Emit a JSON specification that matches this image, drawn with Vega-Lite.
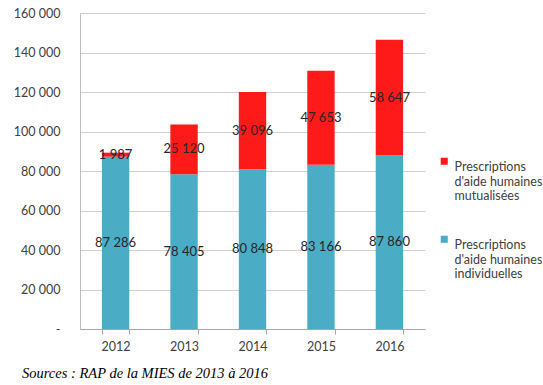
{
  "$schema": "https://vega.github.io/schema/vega-lite/v6.json",
  "width": 345,
  "height": 316,
  "autosize": "none",
  "padding": {"left": 80, "top": 13, "right": 118, "bottom": 56},
  "config": {
    "locale": {"number": {"decimal": ",", "thousands": " ", "grouping": [3], "currency": ["", " €"]}},
    "view": {"stroke": null},
    "font": "Lato",
    "axisY": {
      "values": [0, 20000, 40000, 60000, 80000, 100000, 120000, 140000, 160000],
      "labelOverlap": false,
      "format": ",d",
      "labelExpr": "datum.value == 0 ? '-' : datum.label",
      "labelFontSize": 12.5,
      "labelColor": "#404040",
      "labelPadding": 20,
      "domain": true,
      "domainColor": "#bfbfbf",
      "ticks": false,
      "gridColor": "#d0d0d0",
      "gridWidth": 1,
      "title": null
    }
  },
  "data": {
    "values": [
      {"year": "2012", "type": "Prescriptions d'aide humaines individuelles", "value": 87286},
      {"year": "2012", "type": "Prescriptions d'aide humaines mutualisées", "value": 1987},
      {"year": "2013", "type": "Prescriptions d'aide humaines individuelles", "value": 78405},
      {"year": "2013", "type": "Prescriptions d'aide humaines mutualisées", "value": 25120},
      {"year": "2014", "type": "Prescriptions d'aide humaines individuelles", "value": 80848},
      {"year": "2014", "type": "Prescriptions d'aide humaines mutualisées", "value": 39096},
      {"year": "2015", "type": "Prescriptions d'aide humaines individuelles", "value": 83166},
      {"year": "2015", "type": "Prescriptions d'aide humaines mutualisées", "value": 47653},
      {"year": "2016", "type": "Prescriptions d'aide humaines individuelles", "value": 87860},
      {"year": "2016", "type": "Prescriptions d'aide humaines mutualisées", "value": 58647}
    ]
  },
  "title": {
    "text": "Sources : RAP de la MIES de 2013 à 2016",
    "orient": "bottom",
    "anchor": "start",
    "frame": "group",
    "font": "Liberation Serif",
    "fontStyle": "italic",
    "fontWeight": "normal",
    "fontSize": 14.5,
    "color": "#000000",
    "dx": -58,
    "offset": 14
  },
  "transform": [
    {"stack": "value", "groupby": ["year"], "sort": [{"field": "type", "order": "ascending"}], "as": ["v0", "v1"]},
    {"calculate": "(datum.v0 + datum.v1) / 2", "as": "mid"}
  ],
  "encoding": {
    "x": {
      "field": "year",
      "type": "ordinal",
      "scale": {"paddingInner": 0.6, "paddingOuter": 0.32},
      "axis": {
        "title": null,
        "labelAngle": 0,
        "labelFontSize": 12.5,
        "labelColor": "#404040",
        "labelPadding": 6,
        "domainColor": "#a6a6a6",
        "tickColor": "#a6a6a6",
        "tickSize": 5,
        "tickBand": "extent"
      }
    }
  },
  "layer": [
    {
      "mark": {"type": "bar"},
      "encoding": {
        "y": {
          "field": "v0",
          "type": "quantitative",
          "scale": {"domain": [0, 160000]},
          "axis": {"title": null}
        },
        "y2": {"field": "v1"},
        "color": {
          "field": "type",
          "type": "nominal",
          "scale": {
            "domain": ["Prescriptions d'aide humaines mutualisées", "Prescriptions d'aide humaines individuelles"],
            "range": ["#ff1a1a", "#4bacc6"]
          },
          "legend": {
            "title": null,
            "orient": "none",
            "legendX": 358,
            "legendY": 142,
            "symbolType": "square",
            "symbolSize": 50,
            "symbolStrokeWidth": 0,
            "labelFontSize": 12.5,
            "labelColor": "#404040",
            "labelLimit": 200,
            "labelLineHeight": 16,
            "labelBaseline": "top",
            "labelOffset": 4,
            "rowPadding": 30,
            "labelExpr": "['Prescriptions', \"d'aide humaines\", indexof(datum.label, 'mutual') >= 0 ? 'mutualisées' : 'individuelles']"
          }
        }
      }
    },
    {
      "mark": {"type": "text", "fontSize": 13, "color": "#262626"},
      "encoding": {
        "y": {"field": "mid", "type": "quantitative", "axis": {"title": null}},
        "text": {"field": "value", "type": "quantitative", "format": ",d"}
      }
    }
  ]
}
